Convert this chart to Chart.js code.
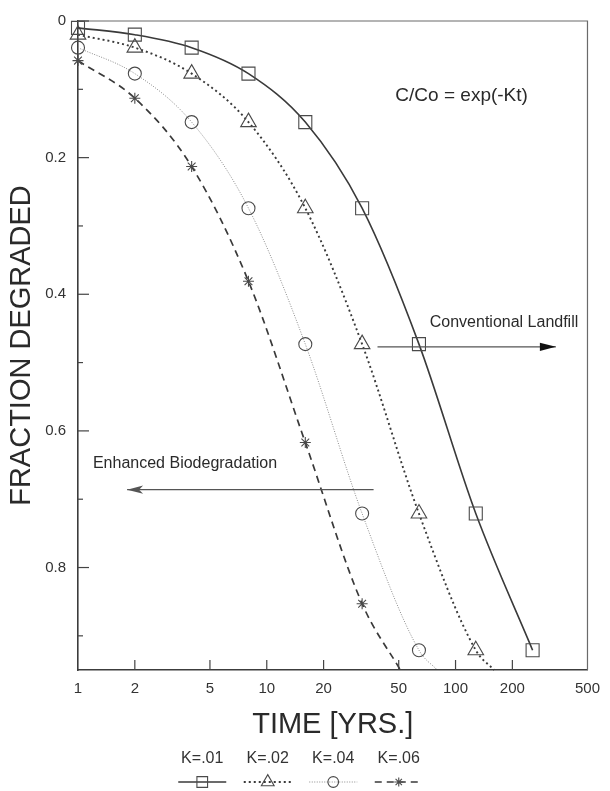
<!DOCTYPE html>
<html><head><meta charset="utf-8">
<script src="https://cdn.jsdelivr.net/npm/chart.js@4.4.0/dist/chart.umd.min.js"></script>
<style>html,body{margin:0;padding:0;background:#fff;}#wrap{width:610px;height:791px;}</style>
</head><body><div id="wrap"><canvas id="c" width="610" height="791"></canvas></div>
<script>
// ---- data ----
const timeYears = [1, 2, 4, 8, 16, 32, 64, 128, 256];
const seriesLabels = ['K=.01', 'K=.02', 'K=.04', 'K=.06'];
const fracK01 = [0.010, 0.020, 0.039, 0.077, 0.148, 0.274, 0.473, 0.721, 0.921];
const fracK02 = [0.020, 0.039, 0.077, 0.148, 0.274, 0.473, 0.721, 0.921];
const fracK04 = [0.039, 0.077, 0.148, 0.274, 0.473, 0.721, 0.921];
const fracK06 = [0.058, 0.113, 0.213, 0.381, 0.617, 0.853];
// where each curve leaves the bottom of the plot (null = curve ends at its last marker)
const exitTime = [null, 160, 80, 51];
const exitFraction = [null, 0.95, 0.95, 0.95];
const xTickValues = [1, 2, 5, 10, 20, 50, 100, 200, 500];
const yTickValues = [0, 0.1, 0.2, 0.3, 0.4, 0.5, 0.6, 0.7, 0.8, 0.9];
const yTickLabels = ['0', '', '0.2', '', '0.4', '', '0.6', '', '0.8', ''];

const FONT = '"Liberation Sans", Arial, Helvetica, sans-serif';
const seriesValues = [fracK01, fracK02, fracK04, fracK06];
const styles = [
  {pointStyle: 'rect', radius: 9.2, dash: [], width: 1.6, color: '#3a3a3a'},
  {pointStyle: 'triangle', radius: 9, dash: [2, 3], width: 1.9, color: '#3a3a3a'},
  {pointStyle: 'circle', radius: 6.5, dash: [1, 1.5], width: 1, color: '#8c8c8c'},
  {pointStyle: 'star', radius: 5.5, dash: [7, 5], width: 1.7, color: '#3a3a3a'}
];

function points(vals, i) {
  const p = vals.map((v, j) => ({x: timeYears[j], y: v}));
  if (exitTime[i] !== null) p.push({x: exitTime[i], y: exitFraction[i], tail: true});
  return p;
}

const datasets = seriesValues.map((vals, i) => ({
  label: seriesLabels[i],
  data: points(vals, i),
  borderColor: styles[i].color,
  borderWidth: styles[i].width,
  borderDash: styles[i].dash,
  cubicInterpolationMode: 'monotone',
  pointStyle: styles[i].pointStyle,
  pointRadius: ctx => (ctx.raw && ctx.raw.tail) ? 0 : styles[i].radius,
  pointBorderColor: '#4a4a4a',
  pointBorderWidth: 1.1,
  pointBackgroundColor: 'rgba(0,0,0,0)',
  clip: {left: 14, top: 14, right: 14, bottom: 1},
  fill: false
}));

const frame = {
  id: 'frame',
  afterDatasetsDraw(chart) {
    const {ctx, chartArea: a, scales: {x, y}} = chart;
    ctx.save();
    ctx.strokeStyle = '#6a6a6a';
    ctx.lineWidth = 1.2;
    ctx.beginPath();
    ctx.moveTo(a.left, a.top); ctx.lineTo(a.right, a.top); ctx.lineTo(a.right, a.bottom);
    ctx.stroke();
    // inward ticks
    ctx.strokeStyle = '#444';
    ctx.lineWidth = 1.2;
    yTickValues.forEach((v, i) => {
      const py = y.getPixelForValue(v);
      const len = yTickLabels[i] ? 11 : 5;
      ctx.beginPath(); ctx.moveTo(a.left, py); ctx.lineTo(a.left + len, py); ctx.stroke();
    });
    xTickValues.forEach(v => {
      if (v === x.min || v === x.max) return;
      const px = x.getPixelForValue(v);
      ctx.beginPath(); ctx.moveTo(px, a.bottom); ctx.lineTo(px, a.bottom - 10); ctx.stroke();
    });
    ctx.restore();
  }
};

function arrow(ctx, x1, y1, x2, y2, headColor, barbed) {
  ctx.strokeStyle = '#555';
  ctx.lineWidth = 1.3;
  ctx.beginPath(); ctx.moveTo(x1, y1); ctx.lineTo(x2, y2); ctx.stroke();
  const dir = Math.sign(x2 - x1);
  const L = 16, H = 4.2;
  ctx.fillStyle = headColor;
  ctx.beginPath();
  ctx.moveTo(x2, y2);
  ctx.lineTo(x2 - dir * L, y2 - H);
  if (barbed) ctx.lineTo(x2 - dir * L * 0.75, y2);
  ctx.lineTo(x2 - dir * L, y2 + H);
  ctx.closePath();
  ctx.fill();
}

const notes = {
  id: 'notes',
  afterDatasetsDraw(chart) {
    const {ctx, scales: {x, y}} = chart;
    ctx.save();
    ctx.fillStyle = '#2a2a2a';
    ctx.textAlign = 'left';
    ctx.textBaseline = 'middle';
    ctx.font = '19px ' + FONT;
    ctx.fillText('C/Co = exp(-Kt)', x.getPixelForValue(48), y.getPixelForValue(0.109));
    ctx.font = '16px ' + FONT;
    ctx.fillText('Conventional Landfill', x.getPixelForValue(73), y.getPixelForValue(0.441));
    ctx.fillText('Enhanced Biodegradation', x.getPixelForValue(1.2), y.getPixelForValue(0.648));
    arrow(ctx, x.getPixelForValue(38.6), y.getPixelForValue(0.477), x.getPixelForValue(340), y.getPixelForValue(0.477), '#111', false);
    arrow(ctx, x.getPixelForValue(36.8), y.getPixelForValue(0.686), x.getPixelForValue(1.82), y.getPixelForValue(0.686), '#555', true);
    ctx.restore();
  }
};

const legendBelow = {
  id: 'legendBelow',
  afterDraw(chart) {
    const {ctx} = chart;
    const ds = chart.data.datasets;
    const center = chart.width / 2 - 4.5, step = 65.5;
    ctx.save();
    ds.forEach((d, i) => {
      const cx = center + (i - (ds.length - 1) / 2) * step;
      ctx.fillStyle = '#333';
      ctx.font = '16px ' + FONT;
      ctx.textAlign = 'center';
      ctx.textBaseline = 'middle';
      ctx.fillText(d.label, cx, 759);
      ctx.strokeStyle = d.borderColor;
      ctx.lineWidth = d.borderWidth;
      ctx.setLineDash(d.borderDash);
      ctx.beginPath(); ctx.moveTo(cx - 24, 782); ctx.lineTo(cx + 24, 782); ctx.stroke();
      ctx.setLineDash([]);
      ctx.strokeStyle = '#4a4a4a';
      ctx.fillStyle = 'rgba(0,0,0,0)';
      ctx.lineWidth = 1.1;
      Chart.helpers.drawPoint(ctx, {pointStyle: d.pointStyle, radius: styles[i].radius * 0.82, rotation: 0, borderWidth: 1.1}, cx, 782);
    });
    ctx.restore();
  }
};

new Chart(document.getElementById('c'), {
  type: 'line',
  data: {datasets},
  plugins: [frame, notes, legendBelow],
  options: {
    responsive: false,
    animation: false,
    parsing: true,
    layout: {padding: {left: 0, right: 15, top: 15, bottom: 45}},
    plugins: {legend: {display: false}, tooltip: {enabled: false}, title: {display: false}},
    scales: {
      x: {
        type: 'logarithmic', min: 1, max: 500,
        afterBuildTicks: s => { s.ticks = xTickValues.map(v => ({value: v})); },
        afterFit: s => { s.height = 76; },
        grid: {display: false, drawTicks: false},
        border: {display: true, color: '#3c3c3c', width: 1.6},
        ticks: {autoSkip: false, maxRotation: 0, padding: 10, color: '#333', font: {size: 15, family: FONT}, callback: v => String(v)},
        title: {display: true, text: 'TIME [YRS.]', color: '#2a2a2a', font: {size: 29, family: FONT}, padding: {top: 0, bottom: 4}}
      },
      y: {
        type: 'linear', reverse: true, min: 0, max: 0.95,
        afterBuildTicks: s => { s.ticks = yTickValues.map(v => ({value: v})); },
        afterFit: s => { s.width = 78; },
        grid: {display: false, drawTicks: false},
        border: {display: true, color: '#3c3c3c', width: 1.6},
        ticks: {autoSkip: false, padding: 12, color: '#333', font: {size: 15, family: FONT}, callback: (v, i) => yTickLabels[i]},
        title: {display: true, text: 'FRACTION DEGRADED', color: '#2a2a2a', font: {size: 29, family: FONT}, padding: {top: 5, bottom: 0}}
      }
    }
  }
});
</script></body></html>
